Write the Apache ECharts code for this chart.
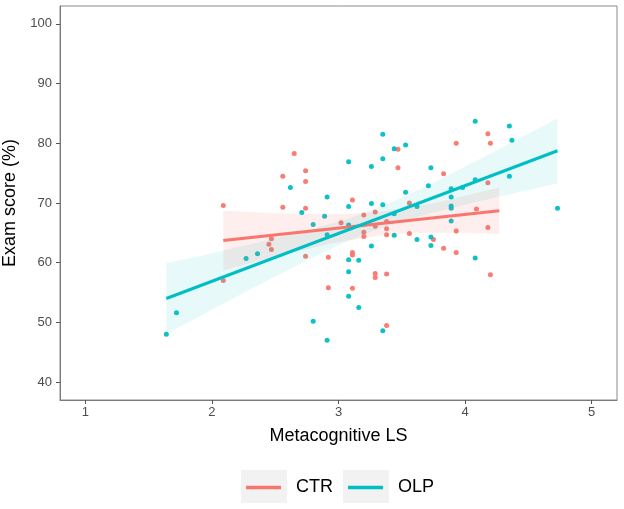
<!DOCTYPE html>
<html>
<head>
<meta charset="utf-8">
<script src="https://cdn.jsdelivr.net/npm/echarts@6/dist/echarts.min.js"></script>
<style>html,body{margin:0;padding:0;background:#fff}#c{width:624px;height:509px}</style>
</head>
<body>
<div id="c"></div>
<script>
// ---- data ----
var ctrPoints = [
  [2.09,69.6],[2.65,78.3],[2.56,74.5],[2.74,75.4],[2.74,73.6],[2.56,69.3],[2.74,69.1],
  [2.47,64.0],[2.45,63.1],[2.47,62.2],[2.74,61.1],[2.09,57.0],[4.18,81.6],[4.20,80.0],
  [3.93,80.0],[3.47,79.0],[3.47,75.9],[3.83,74.9],[4.18,73.4],[3.11,70.5],[3.29,68.5],
  [3.20,68.0],[3.56,70.0],[4.09,69.0],[3.02,66.7],[3.20,65.1],[3.20,64.4],[3.29,66.1],
  [3.38,65.7],[3.38,64.7],[3.38,66.9],[3.56,64.9],[3.75,63.9],[3.83,62.4],[3.93,65.3],
  [3.93,61.7],[4.18,65.9],[4.20,58.0],[2.92,60.9],[3.11,61.7],[3.11,61.3],[3.29,58.2],
  [3.29,57.5],[3.38,58.1],[2.92,55.8],[3.11,55.7],[3.38,49.5]
];
var olpPoints = [
  [2.62,72.6],[2.71,68.4],[2.80,66.4],[2.27,60.7],[2.36,61.5],[1.72,51.6],[1.64,48.0],
  [2.80,50.2],[4.08,83.7],[4.35,82.9],[4.37,80.5],[3.35,81.5],[3.44,79.1],[3.53,79.7],
  [3.08,76.9],[3.26,76.1],[3.35,77.4],[3.73,75.9],[4.35,74.5],[3.71,72.9],[3.89,72.4],
  [3.98,72.6],[4.08,73.9],[4.73,69.1],[2.91,71.0],[3.08,69.4],[3.26,69.9],[3.35,69.7],
  [3.53,71.8],[3.62,69.4],[3.89,71.0],[3.89,69.5],[3.89,69.1],[2.89,67.8],[3.08,66.3],
  [2.91,64.7],[3.44,64.6],[3.62,63.9],[3.73,64.3],[3.73,62.9],[3.89,67.0],[4.08,60.8],
  [3.08,60.5],[3.16,60.4],[3.26,62.8],[3.08,58.5],[3.08,54.4],[3.16,52.5],[2.91,47.0],
  [3.35,48.6],[3.44,68.2]
];
var ctrFit = [[2.09,63.7],[4.27,68.7]];
var olpFit = [[1.64,54.0],[4.73,78.75]];
var ctrBandX    = [2.09, 2.3, 2.5, 2.7, 2.9, 3.1, 3.35, 3.6, 3.8, 4.0, 4.15, 4.27];
var ctrBandLow  = [58.7, 59.9, 61.0, 62.0, 63.0, 63.8, 64.6, 65.0, 65.0, 65.0, 64.9, 64.8];
var ctrBandHigh = [68.7, 68.5, 68.3, 68.2, 68.1, 68.2, 68.6, 69.4, 70.2, 71.2, 72.0, 72.6];
var olpBandX    = [1.64, 1.9, 2.2, 2.5, 2.8, 3.05, 3.25, 3.45, 3.7, 4.0, 4.3, 4.55, 4.73];
var olpBandLow  = [48.1, 51.0, 54.4, 57.7, 60.9, 63.4, 65.1, 66.6, 68.1, 69.7, 71.2, 72.4, 73.3];
var olpBandHigh = [59.9, 61.1, 62.6, 64.1, 65.7, 67.2, 68.7, 70.4, 72.9, 76.1, 79.4, 82.2, 84.2];
var xTicks = [1, 2, 3, 4, 5];
var yTicks = [40, 50, 60, 70, 80, 90, 100];
var groups = ['CTR', 'OLP'];
// ----------------------------------------------

var RED = '#F8766D', TEAL = '#00BFC4';
var FONT = 'Liberation Sans, Arial, Helvetica, sans-serif';

function bandSeries(name, xs, lo, hi, fill) {
  return {
    type: 'custom', name: name + ' band', z: 3, silent: true,
    data: [[xs[0], lo[0]]],
    renderItem: function (params, api) {
      var pts = [];
      for (var i = 0; i < xs.length; i++) pts.push(api.coord([xs[i], hi[i]]));
      for (var j = xs.length - 1; j >= 0; j--) pts.push(api.coord([xs[j], lo[j]]));
      return { type: 'polygon', shape: { points: pts }, style: { fill: fill, stroke: null } };
    }
  };
}

var legendCommon = {
  padding: 0, itemWidth: 35, itemHeight: 3.5, icon: 'rect', top: 478.5,
  textStyle: { fontSize: 18, color: '#000', fontFamily: FONT, padding: [0, 0, 0, 10] }
};

var chart = echarts.init(document.getElementById('c'), null, { renderer: 'canvas' });
chart.setOption({
  animation: false,
  backgroundColor: '#fff',
  textStyle: { fontFamily: FONT },
  grid: { left: 60, right: 7, top: 6, bottom: 109, containLabel: false, outerBoundsMode: 'none',
          show: true, borderColor: '#8a8a8a', borderWidth: 1 },
  xAxis: {
    type: 'value', min: 0.8, max: 5.2,
    name: 'Metacognitive LS', nameLocation: 'middle', nameGap: 27,
    nameTextStyle: { color: '#000', fontSize: 18, fontFamily: FONT },
    splitLine: { show: false },
    axisLine: { show: true, onZero: false, lineStyle: { color: '#7a7a7a', width: 1 } },
    axisTick: { show: true, length: 4, lineStyle: { color: '#555' }, customValues: xTicks },
    axisLabel: { color: '#4d4d4d', fontSize: 13, margin: 6, fontFamily: FONT, customValues: xTicks }
  },
  yAxis: {
    type: 'value', min: 37, max: 103,
    name: 'Exam score (%)', nameLocation: 'middle', nameGap: 30, nameRotate: 90,
    nameTextStyle: { color: '#000', fontSize: 18, fontFamily: FONT },
    splitLine: { show: false },
    axisLine: { show: true, onZero: false, lineStyle: { color: '#7a7a7a', width: 1 } },
    axisTick: { show: true, length: 4, lineStyle: { color: '#555' }, customValues: yTicks },
    axisLabel: { color: '#4d4d4d', fontSize: 13, margin: 8, fontFamily: FONT, customValues: yTicks }
  },
  graphic: [
    { type: 'rect', left: 241, top: 470, shape: { width: 46, height: 33 }, style: { fill: '#f2f2f2' }, z: -1 },
    { type: 'rect', left: 343, top: 470, shape: { width: 46, height: 33 }, style: { fill: '#f2f2f2' }, z: -1 }
  ],
  legend: [
    Object.assign({ data: [groups[0]], left: 246 }, legendCommon),
    Object.assign({ data: [groups[1]], left: 348 }, legendCommon)
  ],
  series: [
    { type: 'line', name: groups[0], data: ctrFit, z: 4, symbol: 'none', silent: true,
      lineStyle: { color: RED, width: 3 }, itemStyle: { color: RED } },
    { type: 'line', name: groups[1], data: olpFit, z: 4, symbol: 'none', silent: true,
      lineStyle: { color: TEAL, width: 3 }, itemStyle: { color: TEAL } },
    bandSeries(groups[0], ctrBandX, ctrBandLow, ctrBandHigh, 'rgba(248,118,109,0.12)'),
    bandSeries(groups[1], olpBandX, olpBandLow, olpBandHigh, 'rgba(0,191,196,0.09)'),
    { type: 'scatter', name: groups[0], data: ctrPoints, z: 2, symbolSize: 5,
      itemStyle: { color: RED, opacity: 0.95 } },
    { type: 'scatter', name: groups[1], data: olpPoints, z: 2, symbolSize: 5,
      itemStyle: { color: TEAL, opacity: 0.95 } }
  ]
});
</script>
</body>
</html>
